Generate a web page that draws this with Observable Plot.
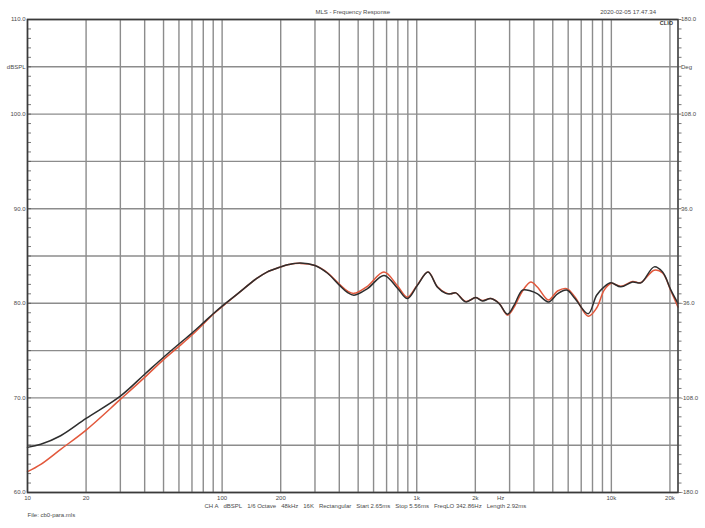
<!DOCTYPE html>
<html>
<head>
<meta charset="utf-8">
<script src="https://cdn.jsdelivr.net/npm/d3@7"></script>
<script src="https://cdn.jsdelivr.net/npm/@observablehq/plot@0.6"></script>
<style>
  html, body { margin: 0; padding: 0; background: #fff; }
</style>
</head>
<body>
<div id="chart"></div>
<script>
// ---- data ----
const freqs = [10, 11.7, 14.8, 20, 30, 40, 50, 60, 70, 80, 90, 100, 120, 150, 170, 200, 220, 253, 300, 347, 399, 440, 476, 558, 679, 796, 895, 1008, 1143, 1278, 1410, 1496, 1587, 1786, 2011, 2177, 2402, 2650, 2926, 3165, 3495, 3857, 4175, 4750, 5289, 5900, 6500, 7600, 8400, 9183, 9940, 11190, 12850, 14180, 16600, 18330, 20230, 22000];
const blackDb = [64.77, 65.1, 66.0, 67.83, 70.19, 72.5, 74.3, 75.7, 76.85, 77.93, 78.9, 79.7, 81.0, 82.6, 83.3, 83.85, 84.1, 84.27, 84.0, 83.2, 81.95, 81.15, 80.85, 81.55, 82.95, 81.6, 80.5, 81.9, 83.3, 81.7, 81.05, 81.0, 81.1, 80.15, 80.6, 80.25, 80.5, 79.97, 78.85, 79.8, 81.4, 81.3, 81.0, 80.15, 81.0, 81.4, 80.5, 78.9, 80.85, 81.74, 82.16, 81.74, 82.26, 82.16, 83.85, 83.3, 81.4, 80.0];
const redDb = [62.2, 62.97, 64.56, 66.6, 69.84, 72.17, 74.05, 75.45, 76.65, 77.8, 78.85, 79.65, 81.0, 82.6, 83.3, 83.85, 84.1, 84.22, 84.0, 83.25, 82.05, 81.3, 81.05, 81.8, 83.3, 81.85, 80.65, 81.95, 83.3, 81.75, 81.1, 81.0, 81.1, 80.2, 80.6, 80.3, 80.5, 80.0, 78.75, 79.6, 81.3, 82.25, 81.7, 80.35, 81.3, 81.55, 80.67, 78.64, 79.5, 81.4, 82.1, 81.8, 82.3, 82.2, 83.5, 83.2, 81.3, 79.6];

const xGrid = [10,20,30,40,50,60,70,80,90,100,200,300,400,500,600,700,800,900,1000,2000,3000,4000,5000,6000,7000,8000,9000,10000,20000];
const yGrid = [60,65,70,75,80,85,90,95,100,105,110];
const xTickValues = [10,20,50,100,200,500,1000,2000,2700,5000,10000,20000];
const xTickLabels = ["10","20","50","100","200","500","1k","2k","Hz","5k","10k","20k"];
const yTickValues = [60,70,80,90,100,110];
const yTickLabels = ["60.0","70.0","80.0","90.0","100.0","110.0"];
const degTickLabels = ["-180.0","-108.0","-36.0","36.0","108.0","180.0"];
const minorTicks = d3.range(60, 111, 1);

const titleText = "MLS - Frequency Response";
const dateText = "2020-02-05 17.47.34";
const captionText = ["CH A", "dBSPL", "1/6 Octave", "48kHz", "16K", "Rectangular", "Start 2.65ms", "Stop 5.56ms", "FreqLO 342.86Hz", "Length 2.92ms"].join("\u00a0\u00a0\u00a0");
const fileText = "File: cb0-para.mls";

const blackData = freqs.map((f, i) => ({f, db: blackDb[i]}));
const redData = freqs.map((f, i) => ({f, db: redDb[i]}));

const gridColor = "#8c8c8c";
const textColor = "#4a4a4a";

const chart = Plot.plot({
  width: 705,
  height: 528,
  marginLeft: 27,
  marginRight: 27.5,
  marginTop: 19,
  marginBottom: 36,
  style: {fontFamily: "'Liberation Sans', Arial, sans-serif", fontSize: "6px", color: textColor, background: "#fff"},
  x: {type: "log", domain: [10, 22000], label: null},
  y: {domain: [60, 110], label: null},
  marks: [
    Plot.ruleX(xGrid, {stroke: gridColor, strokeWidth: 1.4}),
    Plot.ruleY(yGrid, {stroke: gridColor, strokeWidth: 1.4}),
    Plot.axisX({ticks: xTickValues, tickFormat: (d) => xTickLabels[xTickValues.indexOf(d)], tickSize: 0, tickPadding: 3, fill: textColor, fontSize: 6, label: null}),
    Plot.axisY({anchor: "left", ticks: yTickValues, tickFormat: (d) => yTickLabels[yTickValues.indexOf(d)], tickSize: 0, tickPadding: 2, fill: textColor, fontSize: 6, label: null}),
    Plot.axisY({anchor: "left", ticks: minorTicks, tickFormat: () => "", tickSize: -4, stroke: "#555", strokeWidth: 0.8, label: null}),
    Plot.axisY({anchor: "right", ticks: yTickValues, tickFormat: (d) => degTickLabels[yTickValues.indexOf(d)], tickSize: 0, tickPadding: 3, fill: textColor, fontSize: 6, label: null}),
    Plot.axisY({anchor: "right", ticks: minorTicks, tickFormat: () => "", tickSize: 3, stroke: "#555", strokeWidth: 0.8, label: null}),
    Plot.text(["dBSPL"], {y: 105, frameAnchor: "left", dx: -2, textAnchor: "end", fill: textColor, fontSize: 6}),
    Plot.text(["Deg"], {y: 105, frameAnchor: "right", dx: 3, textAnchor: "start", fill: textColor, fontSize: 6}),
    Plot.line(redData, {x: "f", y: "db", stroke: "#e2583c", strokeWidth: 1.5, curve: "catmull-rom"}),
    Plot.line(blackData, {x: "f", y: "db", stroke: "#2e2e2e", strokeWidth: 1.5, curve: "catmull-rom"}),
    Plot.frame({stroke: "#3a3a3a", strokeWidth: 1.6}),
    Plot.text([titleText], {frameAnchor: "top", dy: -10, fill: textColor, fontSize: 6}),
    Plot.text([dateText], {frameAnchor: "top-right", dx: -22, dy: -10, textAnchor: "end", fill: textColor, fontSize: 6}),
    Plot.text(["CLIO"], {frameAnchor: "top-right", dx: -5, dy: 2, textAnchor: "end", lineAnchor: "top", fill: "#333", fontSize: 5.5, fontWeight: "bold"}),
    Plot.text([captionText], {frameAnchor: "bottom-left", dx: 177, dy: 15, textAnchor: "start", fill: textColor, fontSize: 6}),
    Plot.text([fileText], {frameAnchor: "bottom-left", dx: 0, dy: 24, textAnchor: "start", fill: textColor, fontSize: 6})
  ]
});
document.getElementById("chart").appendChild(chart);
</script>
</body>
</html>
